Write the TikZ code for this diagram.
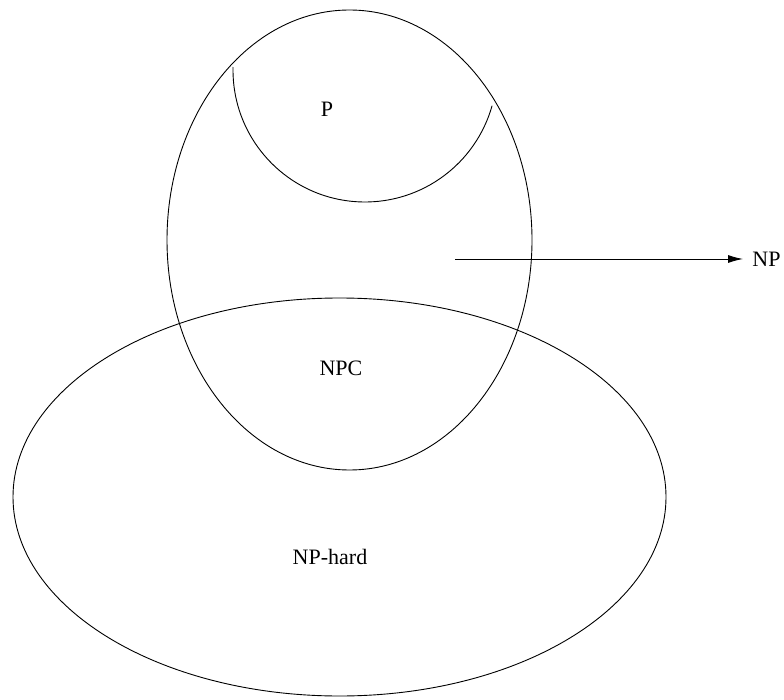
\documentclass[tikz,border=0pt]{standalone}
\usepackage{fontspec}
\setmainfont{Liberation Serif}
\usetikzlibrary{shapes.geometric,arrows.meta}
\begin{document}
\begin{tikzpicture}[x=1pt,y=1pt,line width=0.9pt,
  setell/.style={draw,ellipse,inner sep=0pt,outer sep=0pt},
  lbl/.style={font=\fontsize{22}{26}\selectfont,inner sep=0pt}]
\useasboundingbox (0,0) rectangle (784,-700);
\node[setell,minimum width=365pt,minimum height=460pt] (np) at (349.5,-240) {};
\node[setell,minimum width=653pt,minimum height=398pt] (nph) at (339.5,-497) {};
\draw (365,-70) ++(178.7:132) arc[start angle=178.7,end angle=344.3,radius=132];
\node[lbl] (pl) at (327,-109.5) {P};
\node[lbl] (npcl) at (341,-368) {NPC};
\node[lbl] (nphl) at (330,-557) {NP-hard};
\node[lbl,anchor=west] (npl) at (752,-259) {NP};
\coordinate (as) at (455,-259);
\draw[-{Latex[length=15pt,width=8pt]},shorten >=9pt] (as) -- (npl.west);
\end{tikzpicture}
\end{document}
